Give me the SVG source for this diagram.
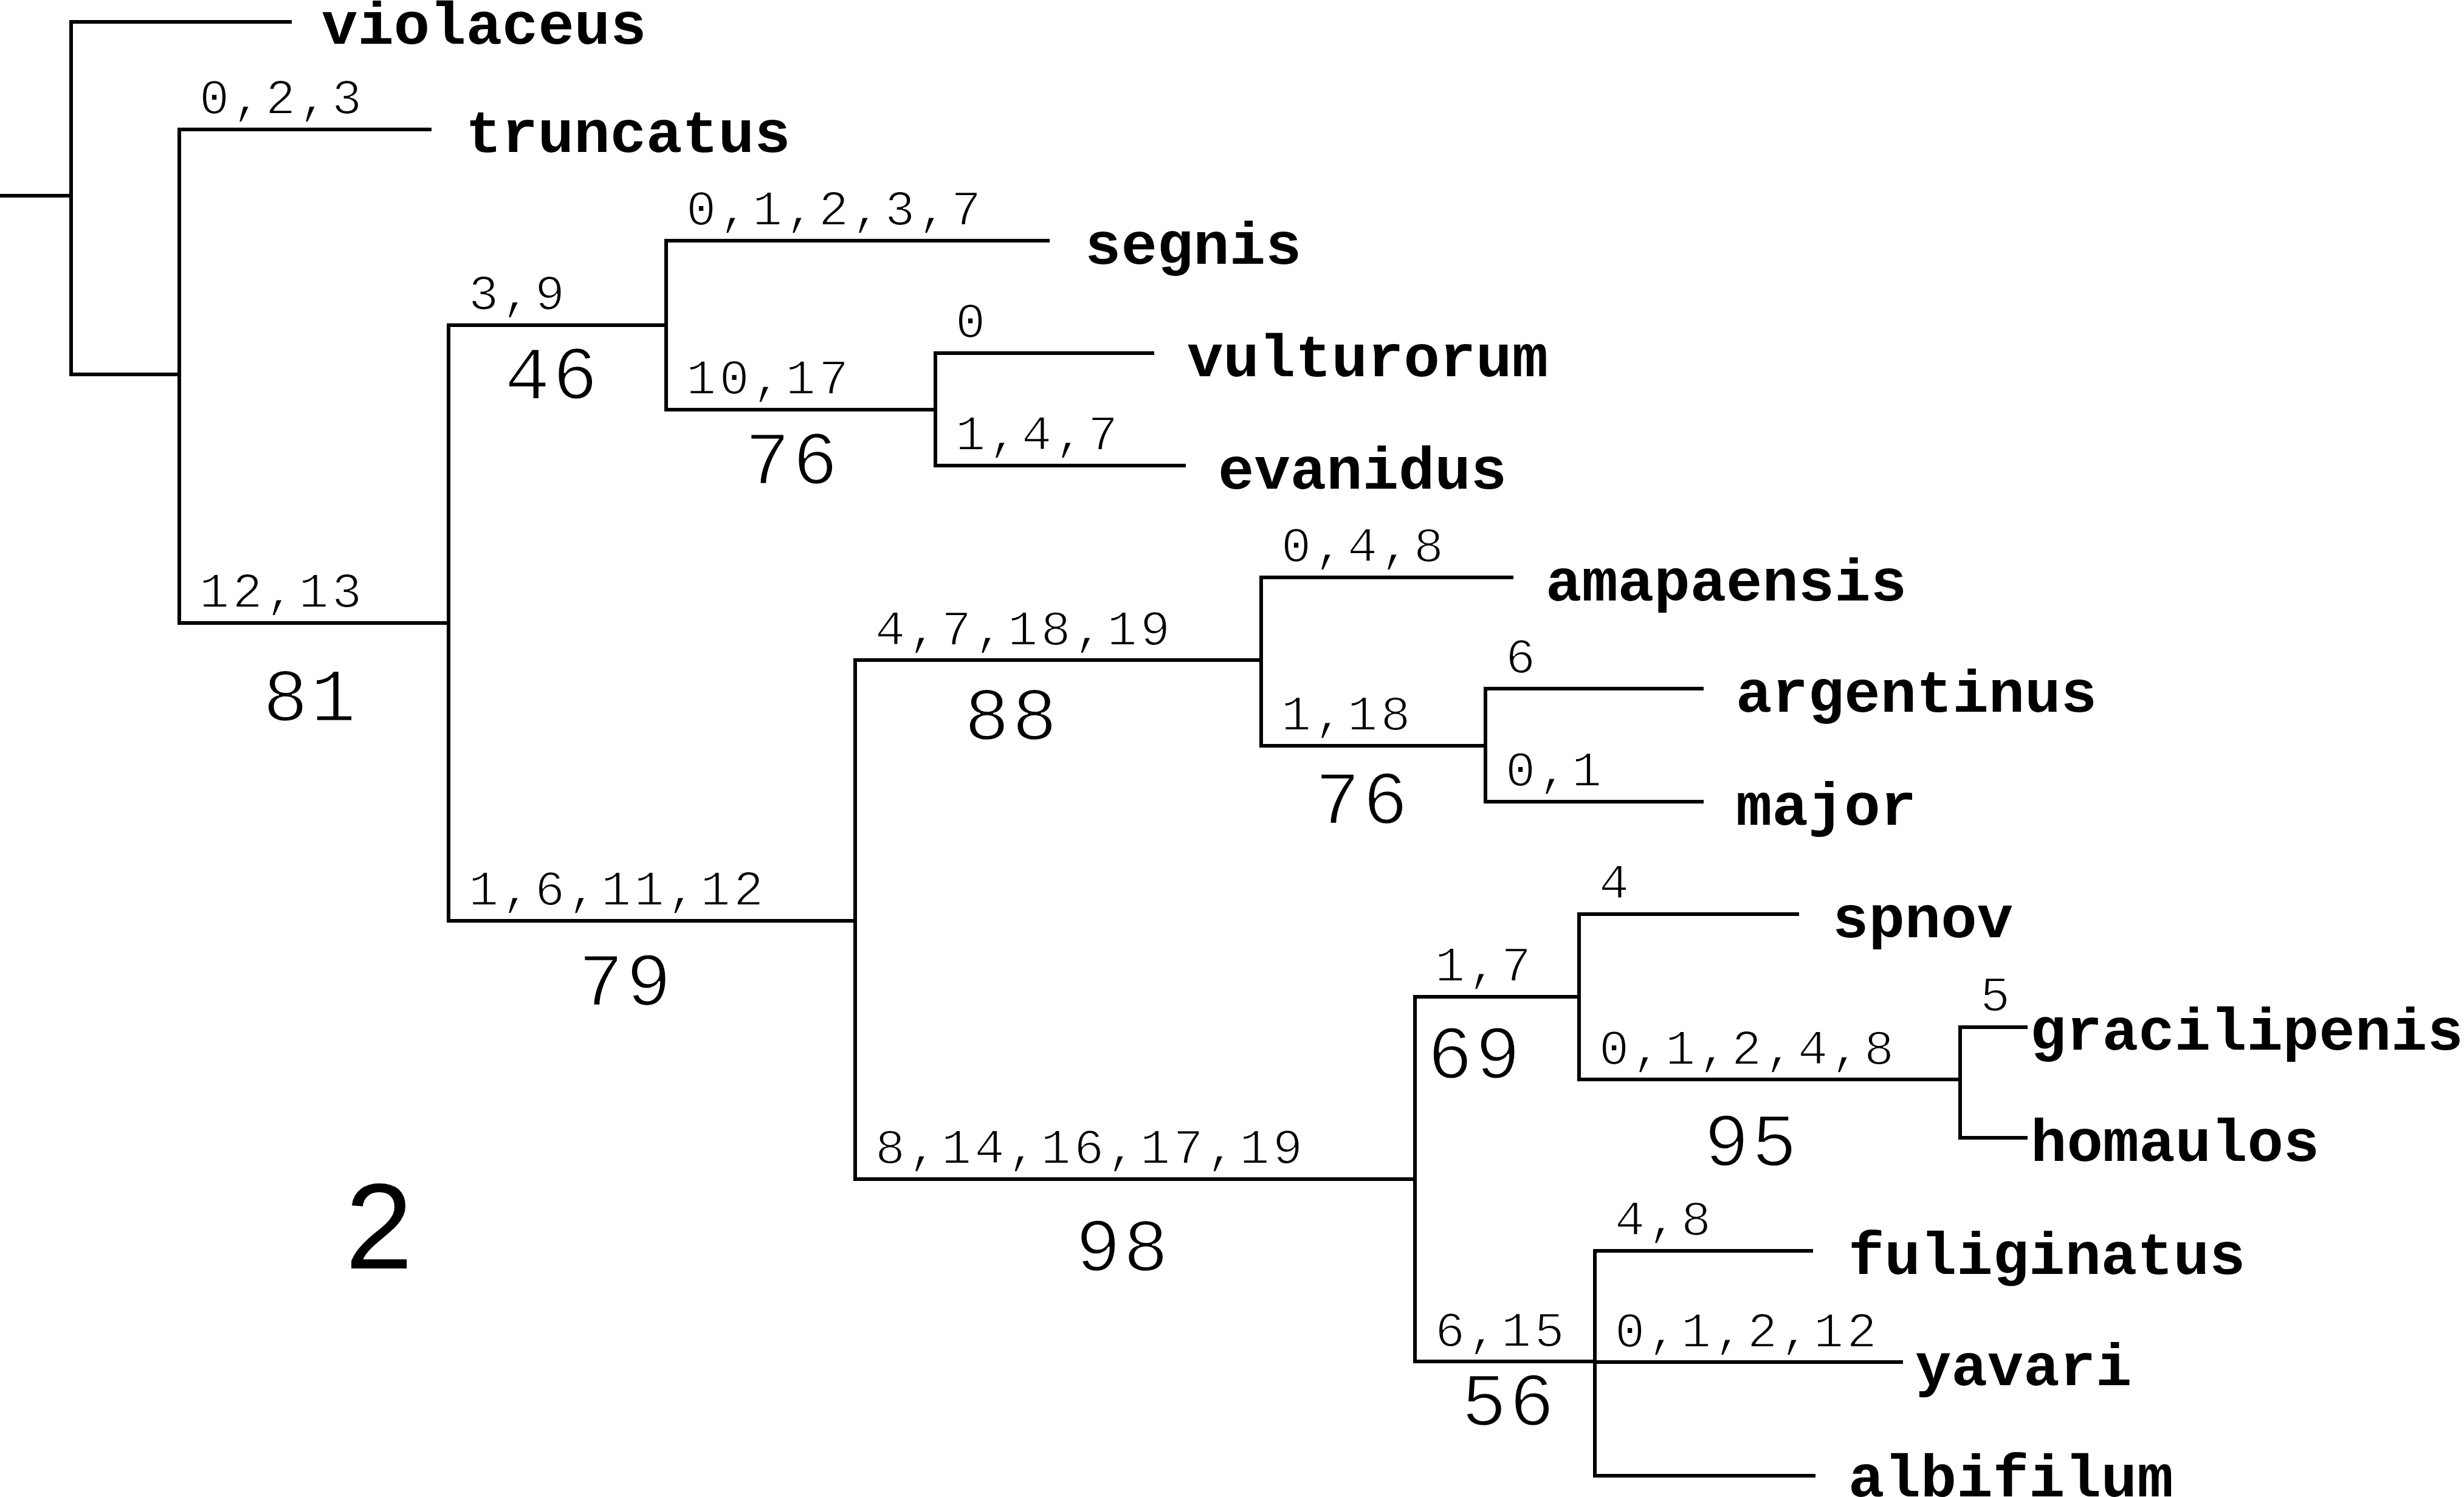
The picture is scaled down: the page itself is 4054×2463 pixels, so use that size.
<svg xmlns="http://www.w3.org/2000/svg" width="4054" height="2463" viewBox="0 0 4054 2463">
<style>
.br{fill:none;stroke:#000;stroke-width:6;stroke-linecap:square}
.tx{font-family:"Liberation Mono","Courier New",monospace;font-weight:bold;font-size:99px;fill:#000}
.lb{font-family:"Liberation Mono","Courier New",monospace;font-size:82px;letter-spacing:5.3px;fill:#000;stroke:#fff;stroke-width:2}
.bs{font-family:"Liberation Mono","Courier New",monospace;font-size:124px;letter-spacing:4px;fill:#000;stroke:#fff;stroke-width:2.5;text-anchor:middle}
.fig{font-family:"Liberation Sans",Arial,sans-serif;font-size:200px;fill:#000}
</style>
<rect width="4054" height="2463" fill="#fff"/>
<g id="connectors" class="br">
<path d="M0 322H117"/>
<path d="M117 36V616"/>
<path d="M117 36H477"/>
<path d="M117 616H295"/>
<path d="M295 213V1025"/>
<path d="M295 213H707"/>
<path d="M295 1025H738"/>
<path d="M738 535V1515"/>
<path d="M738 535H1096"/>
<path d="M1096 396V674"/>
<path d="M1096 396H1724"/>
<path d="M1096 674H1539"/>
<path d="M1539 581V766"/>
<path d="M1539 581H1896"/>
<path d="M1539 766H1948"/>
<path d="M738 1515H1407"/>
<path d="M1407 1086V1940"/>
<path d="M1407 1086H2075"/>
<path d="M2075 950V1227"/>
<path d="M2075 950H2487"/>
<path d="M2075 1227H2444"/>
<path d="M2444 1133V1319"/>
<path d="M2444 1133H2800"/>
<path d="M2444 1319H2800"/>
<path d="M1407 1940H2328"/>
<path d="M2328 1640V2240"/>
<path d="M2328 1640H2598"/>
<path d="M2598 1504V1776"/>
<path d="M2598 1504H2957"/>
<path d="M2598 1776H3225"/>
<path d="M3225 1690V1872"/>
<path d="M3225 1690H3333"/>
<path d="M3225 1872H3333"/>
<path d="M2328 2240H2624"/>
<path d="M2624 2058V2428"/>
<path d="M2624 2058H2980"/>
<path d="M2624 2241H3128"/>
<path d="M2624 2428H2984"/>
</g>
<g id="taxa">
<g id="t-violaceus"><text class="tx" x="529" y="72">violaceus</text></g>
<g id="t-truncatus"><text class="tx" x="766" y="250">truncatus</text></g>
<g id="t-segnis"><text class="tx" x="1785" y="434">segnis</text></g>
<g id="t-vulturorum"><text class="tx" x="1953" y="619">vulturorum</text></g>
<g id="t-evanidus"><text class="tx" x="2004" y="804">evanidus</text></g>
<g id="t-amapaensis"><text class="tx" x="2543" y="988">amapaensis</text></g>
<g id="t-argentinus"><text class="tx" x="2856" y="1171">argentinus</text></g>
<g id="t-major"><text class="tx" x="2856" y="1357">major</text></g>
<g id="t-spnov"><text class="tx" x="3015" y="1542">spnov</text></g>
<g id="t-gracilipenis"><text class="tx" x="3340" y="1727">gracilipenis</text></g>
<g id="t-homaulos"><text class="tx" x="3341" y="1910">homaulos</text></g>
<g id="t-fuliginatus"><text class="tx" x="3041" y="2096">fuliginatus</text></g>
<g id="t-yavari"><text class="tx" x="3151" y="2279">yavari</text></g>
<g id="t-albifilum"><text class="tx" x="3041" y="2462">albifilum</text></g>
</g>
<g id="branch-labels">
<g id="l-truncatus"><text class="lb" x="328" y="187">0,2,3</text></g>
<g id="l-B"><text class="lb" x="328" y="999">12,13</text><text class="bs" x="511" y="1186">81</text></g>
<g id="l-C"><text class="lb" x="771" y="509">3,9</text><text class="bs" x="909" y="656">46</text></g>
<g id="l-segnis"><text class="lb" x="1129" y="370">0,1,2,3,7</text></g>
<g id="l-D"><text class="lb" x="1129" y="648">10,17</text><text class="bs" x="1304" y="796">76</text></g>
<g id="l-vulturorum"><text class="lb" x="1572" y="555">0</text></g>
<g id="l-evanidus"><text class="lb" x="1572" y="740">1,4,7</text></g>
<g id="l-E"><text class="lb" x="771" y="1489">1,6,11,12</text><text class="bs" x="1030" y="1654">79</text></g>
<g id="l-F"><text class="lb" x="1440" y="1061">4,7,18,19</text><text class="bs" x="1665" y="1217">88</text></g>
<g id="l-amapaensis"><text class="lb" x="2108" y="924">0,4,8</text></g>
<g id="l-G"><text class="lb" x="2108" y="1201">1,18</text><text class="bs" x="2242" y="1355">76</text></g>
<g id="l-argentinus"><text class="lb" x="2477" y="1107">6</text></g>
<g id="l-major"><text class="lb" x="2477" y="1293">0,1</text></g>
<g id="l-H"><text class="lb" x="1440" y="1914">8,14,16,17,19</text><text class="bs" x="1848" y="2091">98</text></g>
<g id="l-I"><text class="lb" x="2361" y="1614">1,7</text><text class="bs" x="2427" y="1774">69</text></g>
<g id="l-spnov"><text class="lb" x="2631" y="1478">4</text></g>
<g id="l-J"><text class="lb" x="2631" y="1751">0,1,2,4,8</text><text class="bs" x="2882" y="1918">95</text></g>
<g id="l-gracilipenis"><text class="lb" x="3258" y="1663">5</text></g>
<g id="l-K"><text class="lb" x="2361" y="2215">6,15</text><text class="bs" x="2483" y="2345">56</text></g>
<g id="l-fuliginatus"><text class="lb" x="2657" y="2032">4,8</text></g>
<g id="l-yavari"><text class="lb" x="2657" y="2216">0,1,2,12</text></g>
</g>
<g id="figure-number"><text class="fig" x="568" y="2087">2</text></g>
</svg>
